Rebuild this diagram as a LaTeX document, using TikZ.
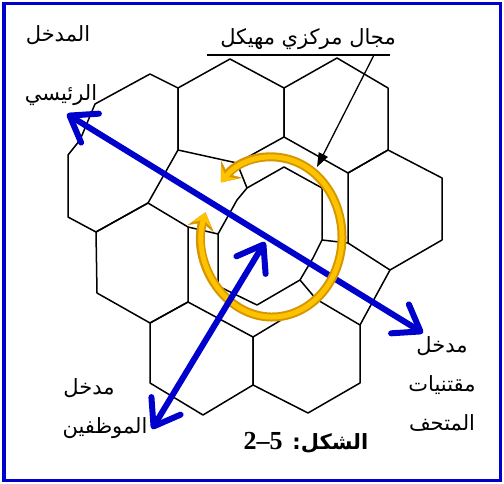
\documentclass[tikz,border=0pt]{standalone}
\usepackage{fontspec}
\newfontfamily\arabicfont[Script=Arabic]{DejaVu Sans}
\newfontfamily\numfont{Liberation Serif}
\TeXXeTstate=1
\usetikzlibrary{positioning, arrows.meta}

\definecolor{frameblue}{RGB}{0,0,204}
\definecolor{loopgold}{RGB}{255,194,0}
\definecolor{loopdark}{RGB}{214,150,0}

\begin{document}
\begin{tikzpicture}[
    x=1pt, y=-1pt,
    node distance=15pt,
    frame/.style={draw=frameblue, line width=3.5pt},
    cell/.style={draw=black, line width=1.5pt, line join=round},
    flow/.style={draw=frameblue, line width=6pt, line cap=round,
        {Straight Barb[length=24pt, width=34pt, round]}-{Straight Barb[length=24pt, width=34pt, round]}},
    loopunder/.style={draw=loopdark, line width=9pt,
        {Stealth[length=17pt, width=27pt, inset=6pt, line width=0.5pt]}-{Stealth[length=17pt, width=27pt, inset=6pt, line width=0.5pt]}},
    loopover/.style={draw=loopgold, line width=5pt,
        {Stealth[length=13pt, width=20pt, inset=5pt, line width=0.5pt]}-{Stealth[length=13pt, width=20pt, inset=5pt, line width=0.5pt]}},
    leader/.style={draw=black, line width=1.1pt},
    pointer/.style={draw=black, line width=1.3pt, -{Triangle[length=14pt, width=10pt]}},
    arlabel/.style={font=\arabicfont\fontsize{21}{25}\selectfont, inner sep=0pt, text height=17pt, text depth=7pt},
    caption/.style={font=\bfseries\fontsize{21}{25}\selectfont, inner sep=0pt}
]
\useasboundingbox (0,0) rectangle (504,484);

% Frame
\draw[frame] (4,3.5) rectangle (500.5,480.5);

% Honeycomb cells
\draw[cell] (150,74) -- (178,88) -- (178,150) -- (148,203) -- (96,232) -- (68,217) -- (68,155) -- (80,140) -- (95,104) -- cycle;
\draw[cell] (230,59) -- (284,88) -- (284,137) -- (237,163) -- (178,150) -- (178,88) -- cycle;
\draw[cell] (337,58) -- (388,88) -- (388,150) -- (348,173) -- (284,137) -- (284,88) -- cycle;
\draw[cell] (388,150) -- (442,178) -- (442,240) -- (390,270) -- (348,243) -- (348,173) -- cycle;
\draw[cell] (96,232) -- (148,203) -- (188,227) -- (188,302) -- (150,323) -- (97,293) -- cycle;
\draw[cell] (150,323) -- (188,302) -- (253,337) -- (253,385) -- (203,415) -- (150,383) -- cycle;
\draw[cell] (253,337) -- (316,299) -- (360,325) -- (360,383) -- (308,413) -- (253,385) -- cycle;
\draw[cell] (360,325) -- (390,270);

% Central cell and its ring
\draw[cell] (284,167) -- (322,188) -- (322,240) -- (313,258) -- (300,280) -- (257,305) -- (218,286) -- (218,234) -- (237,200) -- (247,188) -- cycle;
\draw[cell] (237,163) -- (247,188);
\draw[cell] (188,227) -- (218,234);
\draw[cell] (348,243) -- (322,240);
\draw[cell] (300,280) -- (316,299);

% Entrances
\coordinate (mainend) at (67,114);
\coordinate (museumend) at (423,333);
\coordinate (staffend) at (152,429);
\coordinate (coreend) at (265,242);
\draw[flow] (mainend) -- (museumend);

% Circulation loop
\coordinate (loopc) at (272,237);
\draw[loopunder] (loopc) ++(198:70 and 80) arc[start angle=198, end angle=-137, x radius=70, y radius=80];
\draw[loopover] (loopc) ++(198:70 and 80) arc[start angle=198, end angle=-137, x radius=70, y radius=80];

\draw[flow] (coreend) -- (staffend);

% Callout
\node[arlabel] (core) at (308,40) {\beginR مجال مركزي مهيكل\endR};
\coordinate (ulleft) at (207,55);
\coordinate (ulright) at (390,55);
\coordinate (ptrstart) at (374,55);
\coordinate (ptrtip) at (317,167);
\draw[leader] (ulleft) -- (ulright);
\draw[pointer] (ptrstart) -- (ptrtip);

% Labels
\node[arlabel] (main1) at (58,37) {\beginR المدخل\endR};
\node[arlabel] (main2) at (61,96) {\beginR الرئيسي\endR};
\node[arlabel] (museum1) at (442,347) {\beginR مدخل\endR};
\node[arlabel, below=of museum1] (museum2) {\beginR مقتنيات\endR};
\node[arlabel, below=of museum2] (museum3) {\beginR المتحف\endR};
\node[arlabel] (staff1) at (89,389) {\beginR مدخل\endR};
\node[arlabel, below=of staff1, xshift=16pt] (staff2) {\beginR الموظفين\endR};

% Caption
\node[caption] (fig) at (306,443) {\arabicfont\beginR الشكل: \beginL\numfont\fontsize{26}{30}\selectfont 2–5\endL\endR};

\end{tikzpicture}
\end{document}
